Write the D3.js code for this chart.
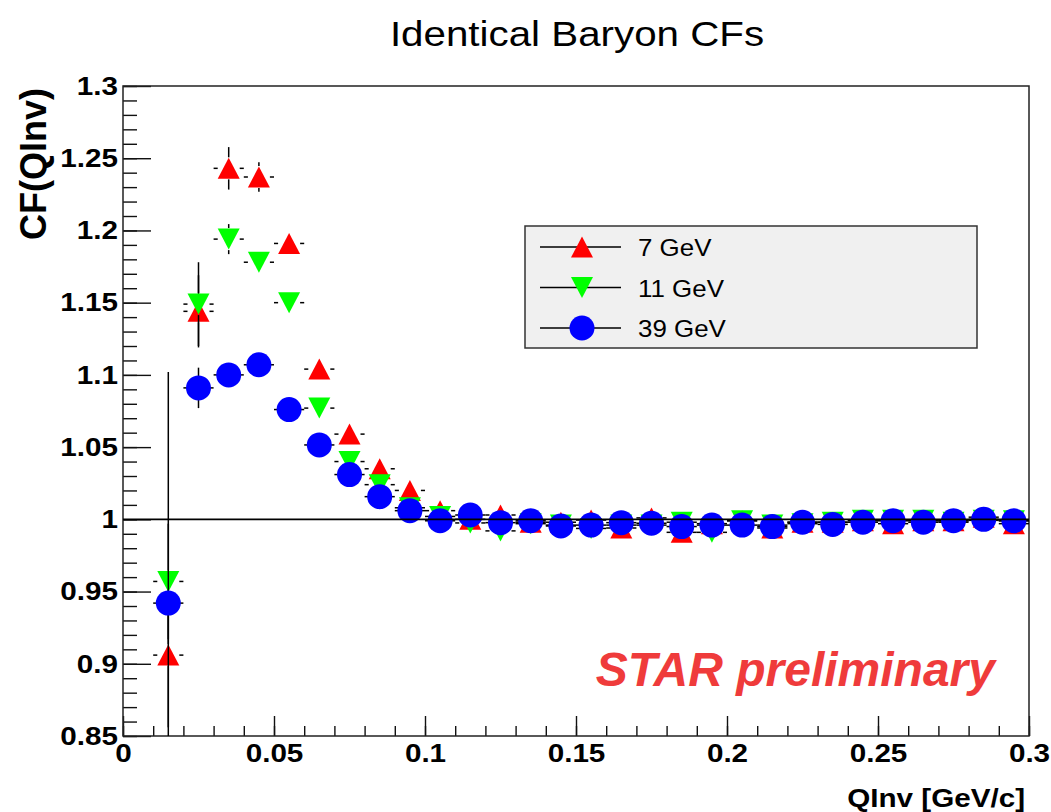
<!DOCTYPE html>
<html>
<head>
<meta charset="utf-8">
<script src="https://cdn.jsdelivr.net/npm/d3@7"></script>
<style>
  body { margin: 0; background: white; }
  text { font-family: 'Liberation Sans', Arial, Helvetica, sans-serif; }
</style>
</head>
<body>
<svg class="chart"></svg>
<script>
// bin centres in QInv [GeV/c]
var qinv = [0.015, 0.025, 0.035, 0.045, 0.055, 0.065, 0.075, 0.085, 0.095, 0.105,
            0.115, 0.125, 0.135, 0.145, 0.155, 0.165, 0.175, 0.185, 0.195, 0.205,
            0.215, 0.225, 0.235, 0.245, 0.255, 0.265, 0.275, 0.285, 0.295];
var qinvErr = 0.005;

var cf7 = [0.906, 1.144, 1.243, 1.237, 1.191, 1.104, 1.059, 1.035, 1.020, 1.006,
           1.000, 1.003, 0.998, 0.998, 0.9995, 0.994, 1.001, 0.991, 0.997, 0.999,
           0.994, 0.998, 0.998, 0.999, 0.997, 0.999, 0.999, 1.0015, 0.997];
var cf7Err = [0.05, 0.025, 0.0147, 0.0102, 0.007, 0.006, 0.005, 0.005, 0.004, 0.004,
              0.004, 0.003, 0.003, 0.003, 0.003, 0.003, 0.003, 0.003, 0.003, 0.003,
              0.003, 0.003, 0.003, 0.003, 0.003, 0.003, 0.003, 0.003, 0.003];

var cf11 = [0.957, 1.149, 1.194, 1.178, 1.150, 1.077, 1.040, 1.024, 1.008, 1.002,
            0.9975, 0.992, 0.997, 0.996, 0.9937, 0.996, 0.996, 0.998, 0.991, 0.999,
            0.996, 0.997, 0.998, 0.9993, 0.9993, 0.9993, 0.998, 0.9993, 0.999];
var cf11Err = [0.04, 0.029, 0.0104, 0.007, 0.006, 0.005, 0.005, 0.004, 0.004, 0.004,
               0.003, 0.003, 0.003, 0.003, 0.003, 0.003, 0.003, 0.003, 0.003, 0.003,
               0.003, 0.003, 0.003, 0.003, 0.003, 0.003, 0.003, 0.003, 0.003];

var cf39 = [0.942, 1.091, 1.100, 1.107, 1.076, 1.0515, 1.031, 1.0157, 1.006, 0.999,
            1.003, 0.9977, 0.999, 0.9954, 0.996, 0.9977, 0.9973, 0.995, 0.996, 0.996,
            0.995, 0.998, 0.9965, 0.998, 0.999, 0.998, 0.999, 1.000, 0.999];
var cf39Err = [0.16, 0.014, 0.007, 0.006, 0.005, 0.004, 0.004, 0.003, 0.003, 0.003,
               0.003, 0.002, 0.002, 0.002, 0.002, 0.002, 0.002, 0.002, 0.002, 0.002,
               0.002, 0.002, 0.002, 0.002, 0.002, 0.002, 0.002, 0.002, 0.002];

var seriesNames = ['7 GeV', '11 GeV', '39 GeV'];
var seriesColors = ['#ff0000', '#00ff00', '#0000ff'];
var seriesShapes = ['up', 'down', 'circle'];

var xMajorTicks = [0, 0.05, 0.1, 0.15, 0.2, 0.25, 0.3];
var yMajorTicks = [0.85, 0.9, 0.95, 1, 1.05, 1.1, 1.15, 1.2, 1.25, 1.3];

var chartWidth = 1051;
var chartHeight = 812;
var frameLeft = 123, frameRight = 1029, frameTop = 86, frameBottom = 736;
var stretch = 1.14;  // ROOT text renders wider than Liberation Sans

var x = d3.scaleLinear().domain([0, 0.3]).range([frameLeft, frameRight]);
var y = d3.scaleLinear().domain([0.85, 1.3]).range([frameBottom, frameTop]);

var xMinorTicks = d3.range(0, 31).map(i => i / 100);
var yMinorTicks = d3.range(85, 131).map(i => i / 100);

var chart = d3.select('.chart').attr('width', chartWidth).attr('height', chartHeight);
chart.append('rect').attr('width', chartWidth).attr('height', chartHeight).attr('fill', 'white');

function styleAxis(g) {
  g.select('.domain').remove();
  g.selectAll('line').attr('stroke', '#111').attr('stroke-width', 1.4);
}

// minor + major ticks, pointing into the frame
chart.append('g')
    .attr('transform', 'translate(0,' + frameBottom + ')')
    .call(d3.axisBottom(x).tickValues(xMinorTicks).tickSize(-10).tickFormat(''))
    .call(styleAxis);
var xAxis = chart.append('g')
    .attr('transform', 'translate(0,' + frameBottom + ')')
    .call(d3.axisBottom(x).tickValues(xMajorTicks).tickSize(-20).tickPadding(8)
              .tickFormat(d => String(d)))
    .call(styleAxis);
xAxis.selectAll('text')
    .attr('fill', '#000')
    .style('font-size', '26px')
    .style('font-weight', 'bold')
    .attr('transform', 'scale(' + stretch + ',1)');

chart.append('g')
    .attr('transform', 'translate(' + frameLeft + ',0)')
    .call(d3.axisLeft(y).tickValues(yMinorTicks).tickSize(-14).tickFormat(''))
    .call(styleAxis);
var yAxis = chart.append('g')
    .attr('transform', 'translate(' + frameLeft + ',0)')
    .call(d3.axisLeft(y).tickValues(yMajorTicks).tickSize(-28).tickPadding(5)
              .tickFormat(d => String(d)))
    .call(styleAxis);
yAxis.selectAll('text')
    .attr('fill', '#000')
    .attr('x', -5 / stretch)
    .style('font-size', '26px')
    .style('font-weight', 'bold')
    .attr('transform', 'scale(' + stretch + ',1)');

// frame
chart.append('rect')
    .attr('x', frameLeft).attr('y', frameTop)
    .attr('width', frameRight - frameLeft).attr('height', frameBottom - frameTop)
    .attr('fill', 'none').attr('stroke', '#222').attr('stroke-width', 1.5);

chart.append('clipPath').attr('id', 'plotClip')
    .append('rect')
    .attr('x', frameLeft).attr('y', frameTop)
    .attr('width', frameRight - frameLeft).attr('height', frameBottom - frameTop);

var plot = chart.append('g').attr('clip-path', 'url(#plotClip)');

var gap = 11;

function markerPath(shape, px, py) {
  var p = d3.path();
  if (shape === 'up') {
    p.moveTo(px - 11, py + 10.5); p.lineTo(px + 11, py + 10.5); p.lineTo(px, py - 10.5);
    p.closePath();
  } else if (shape === 'down') {
    p.moveTo(px - 11, py - 10.5); p.lineTo(px + 11, py - 10.5); p.lineTo(px, py + 10.5);
    p.closePath();
  } else {
    p.arc(px, py, 12.5, 0, 2 * Math.PI);
  }
  return p.toString();
}

function drawSeries(values, errors, shape, color) {
  var points = qinv.map((q, i) => ({q: q, v: values[i], e: errors[i]}));
  var segments = [];
  points.forEach(d => {
    var px = x(d.q), py = y(d.v);
    segments.push([x(d.q - qinvErr), py, px - gap, py]);
    segments.push([px + gap, py, x(d.q + qinvErr), py]);
    if (y(d.v + d.e) < py - gap) segments.push([px, y(d.v + d.e), px, py - gap]);
    if (y(d.v - d.e) > py + gap) segments.push([px, py + gap, px, y(d.v - d.e)]);
  });
  var g = plot.append('g');
  g.selectAll('line')
      .data(segments)
      .join('line')
      .attr('x1', s => s[0]).attr('y1', s => s[1])
      .attr('x2', s => s[2]).attr('y2', s => s[3])
      .attr('stroke', '#000').attr('stroke-width', 1.5);
  g.selectAll('path')
      .data(points)
      .join('path')
      .attr('d', d => markerPath(shape, x(d.q), y(d.v)))
      .attr('fill', color);
}

drawSeries(cf7, cf7Err, seriesShapes[0], seriesColors[0]);
drawSeries(cf11, cf11Err, seriesShapes[1], seriesColors[1]);
drawSeries(cf39, cf39Err, seriesShapes[2], seriesColors[2]);

// reference line at CF = 1
plot.append('line')
    .attr('x1', x(0)).attr('x2', x(0.3))
    .attr('y1', y(1)).attr('y2', y(1))
    .attr('stroke', '#000').attr('stroke-width', 1.6);

// legend
var legend = chart.append('g');
legend.append('rect')
    .attr('x', 525).attr('y', 226).attr('width', 452).attr('height', 122)
    .attr('fill', '#f0f0f0').attr('stroke', '#333').attr('stroke-width', 1.5);
var rows = legend.selectAll('g.row')
    .data(seriesNames)
    .join('g')
    .attr('class', 'row')
    .attr('transform', (d, i) => 'translate(0,' + (247 + i * 40.5) + ')');
rows.append('line')
    .attr('x1', 540).attr('x2', 621).attr('y1', 0).attr('y2', 0)
    .attr('stroke', '#000').attr('stroke-width', 1.5);
rows.append('path')
    .attr('d', (d, i) => markerPath(seriesShapes[i], 582, 0))
    .attr('fill', (d, i) => seriesColors[i]);
rows.append('text')
    .attr('transform', 'translate(638,9) scale(1.08,1)')
    .style('font-size', '24px')
    .text(d => d);

// titles
chart.append('text')
    .attr('transform', 'translate(577,46) scale(1.12,1)')
    .attr('text-anchor', 'middle')
    .style('font-size', '36px')
    .text('Identical Baryon CFs');

chart.append('text')
    .attr('transform', 'translate(1025,807) scale(' + stretch + ',1)')
    .attr('text-anchor', 'end')
    .style('font-size', '26px')
    .style('font-weight', 'bold')
    .text('QInv [GeV/c]');

chart.append('text')
    .attr('transform', 'translate(46,88) rotate(-90)')
    .attr('text-anchor', 'end')
    .style('font-size', '36px')
    .style('font-weight', 'bold')
    .text('CF(QInv)');

chart.append('text')
    .attr('x', 995).attr('y', 686)
    .attr('text-anchor', 'end')
    .attr('fill', '#ef3b3b')
    .style('font-size', '48px')
    .style('font-weight', 'bold')
    .style('font-style', 'italic')
    .text('STAR preliminary');
</script>
</body>
</html>
